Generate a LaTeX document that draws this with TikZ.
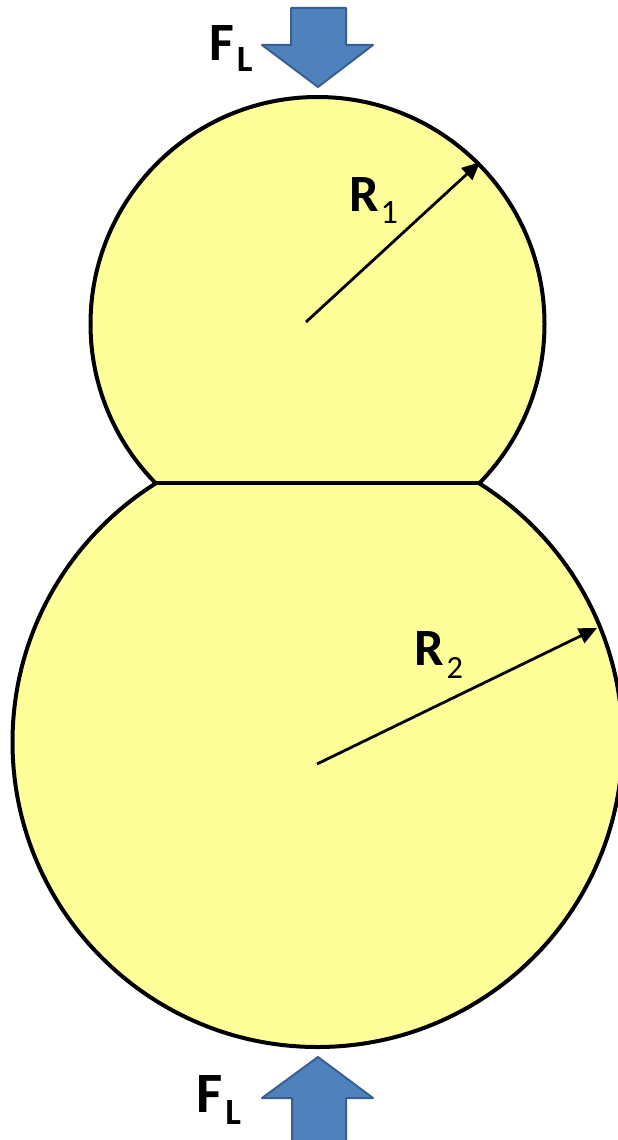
\documentclass[tikz,border=0pt]{standalone}
\usepackage{fontspec}
\usepackage{graphicx}
\setmainfont{Carlito}
\usetikzlibrary{arrows.meta}
\definecolor{fillyellow}{HTML}{FFFF99}
\definecolor{arrowblue}{HTML}{4F81BD}
\definecolor{arrowedge}{HTML}{3A5F8F}
\newcommand{\capsized}[2]{\resizebox{!}{#1}{#2}}
\tikzset{
  body/.style={fill=fillyellow},
  outline/.style={line width=4pt, black},
  radiusarrow/.style={line width=2.8pt, -{Triangle[length=18pt,width=16pt]}},
  forcearrow/.style={fill=arrowblue, draw=arrowedge, line width=2pt, line join=round},
  labeltext/.style={anchor=base west, inner sep=0pt}
}
\begin{document}
\begin{tikzpicture}[x=1pt,y=-1pt]
\useasboundingbox (0,0) rectangle (618,1140);
% centres and chord
\coordinate (c1) at (317.5,324);
\coordinate (c2) at (317.5,742);
\coordinate (jl) at (155.5,483);
\coordinate (jr) at (479.5,483);
% fills
\fill[body] (c1) circle[radius=227pt];
\fill[body] (c2) circle[radius=305pt];
% outlines
\begin{scope}
  \clip (0,0) rectangle (618,483);
  \draw[outline] (c1) circle[radius=227pt];
\end{scope}
\begin{scope}
  \clip (0,483) rectangle (618,1140);
  \draw[outline] (c2) circle[radius=305pt];
\end{scope}
\draw[outline] (jl) -- (jr);
% radius arrows
\coordinate (r1s) at (306,322);
\coordinate (r1e) at (480,162);
\coordinate (r2s) at (317,764);
\coordinate (r2e) at (597,628);
\draw[radiusarrow] (r1s) -- (r1e);
\draw[radiusarrow] (r2s) -- (r2e);
\node[labeltext] (lr1) at (349,211) {\capsized{34pt}{\bfseries R}\kern2pt\raisebox{-12pt}{\capsized{22pt}{1}}};
\node[labeltext] (lr2) at (414,665) {\capsized{34pt}{\bfseries R}\kern3pt\raisebox{-13pt}{\capsized{21pt}{2}}};
% force arrows
\draw[forcearrow] (291,8) -- (346,8) -- (346,45) -- (373,45) -- (318,87) -- (262,45) -- (291,45) -- cycle;
\draw[forcearrow] (292,1142) -- (346,1142) -- (346,1098) -- (373,1098) -- (318,1057) -- (262,1098) -- (292,1098) -- cycle;
\node[labeltext] (fl1) at (209,60) {\capsized{35pt}{\bfseries F}\kern3pt\raisebox{-12pt}{\capsized{24pt}{\bfseries L}}};
\node[labeltext] (fl2) at (196,1112) {\capsized{37pt}{\bfseries F}\kern3pt\raisebox{-12pt}{\capsized{24pt}{\bfseries L}}};
\end{tikzpicture}
\end{document}
